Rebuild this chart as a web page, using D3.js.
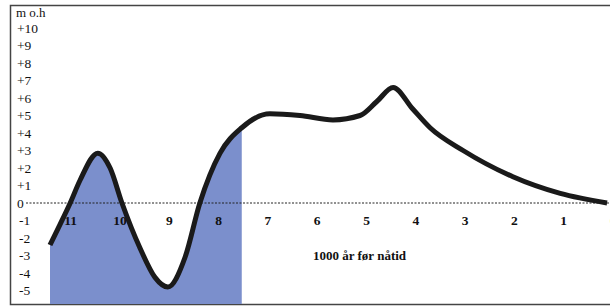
<!DOCTYPE html>
<html>
<head>
<meta charset="utf-8">
<script src="https://cdn.jsdelivr.net/npm/d3@7"></script>
<style>
  body { margin: 0; background: #fff; }
  svg { display: block; }
  text { font-family: "Liberation Serif", "Times New Roman", serif; fill: #111; }
</style>
</head>
<body>
<script>
// sea level (m o.h) against thousand years before present
var years = [11.4, 11.2, 10.99, 10.79, 10.43, 10.18, 9.94, 9.57, 9.27, 9.01, 8.66, 8.36, 7.95, 7.51, 6.94, 6.33, 5.66, 5.11, 4.77, 4.44, 4.05, 3.69, 3.02, 2.01, 1.05, 0.1];
var level = [-2.4, -1.25, 0.0, 1.3, 2.85, 2.0, 0.0, -2.6, -4.25, -4.8, -3.1, 0.0, 2.85, 4.3, 5.1, 5.0, 4.75, 5.0, 5.8, 6.6, 5.4, 4.3, 3.0, 1.5, 0.55, 0.0];

// shaded span (thousand years)
var shadeFrom = 11.4, shadeTo = 7.51;

var yTicks = [10, 9, 8, 7, 6, 5, 4, 3, 2, 1, 0, -1, -2, -3, -4, -5];
var yTickLabels = ["+10", "+9", "+8", "+7", "+6", "+5", "+4", "+3", "+2", "+1", "0", "-1", "-2", "-3", "-4", "-5"];
var xTicks = [11, 10, 9, 8, 7, 6, 5, 4, 3, 2, 1, 0];
var yUnit = "m o.h";
var xTitle = "1000 år før nåtid";

var svgWidth = 610;
var svgHeight = 307;

var svg = d3.select("body")
  .append("svg")
  .attr("width", svgWidth)
  .attr("height", svgHeight);

var x = d3.scaleLinear().domain([12, 0]).range([20.4, 612]);
var y = d3.scaleLinear().domain([0, 10]).range([203, 28]);

// frame
svg.append("rect")
  .attr("x", 10.5).attr("y", 5.5)
  .attr("width", 620).attr("height", 299)
  .attr("fill", "none")
  .attr("stroke", "#444")
  .attr("stroke-width", 1.5);

var pts = years.map((d, i) => ({ k: d, v: level[i] }));

// shaded area below the curve
var clip = svg.append("clipPath").attr("id", "shade");
clip.append("rect")
  .attr("x", x(shadeFrom))
  .attr("y", 0)
  .attr("width", x(shadeTo) - x(shadeFrom))
  .attr("height", svgHeight);

var area = d3.area()
  .x(d => x(d.k))
  .y0(304)
  .y1(d => y(d.v))
  .curve(d3.curveMonotoneX);

svg.append("path")
  .attr("d", area(pts))
  .attr("clip-path", "url(#shade)")
  .attr("fill", "#7b8fcc");

// zero line
svg.append("line")
  .attr("x1", 26).attr("x2", 610)
  .attr("y1", y(0)).attr("y2", y(0))
  .attr("stroke", "#222")
  .attr("stroke-width", 1)
  .attr("stroke-dasharray", "2,1.5");

// y labels
svg.append("text")
  .attr("x", 16).attr("y", 12)
  .attr("dy", "0.35em")
  .attr("font-size", 13)
  .text(yUnit);

svg.selectAll(".ylab")
  .data(yTicks)
  .enter()
  .append("text")
  .attr("class", "ylab")
  .attr("x", d => d < 0 ? 19 : 17)
  .attr("y", d => y(d))
  .attr("dy", "0.35em")
  .attr("font-size", 13.5)
  .text((d, i) => yTickLabels[i]);

// x labels (drawn under the curve)
svg.selectAll(".xlab")
  .data(xTicks)
  .enter()
  .append("text")
  .attr("class", "xlab")
  .attr("x", d => x(d) + 1)
  .attr("y", 220)
  .attr("dy", "0.35em")
  .attr("text-anchor", "middle")
  .attr("font-size", 13.5)
  .attr("font-weight", "bold")
  .text(d => d);

svg.append("text")
  .attr("x", 313).attr("y", 255)
  .attr("dy", "0.35em")
  .attr("font-size", 13)
  .attr("font-weight", "bold")
  .text(xTitle);

// curve
var line = d3.line()
  .x(d => x(d.k))
  .y(d => y(d.v))
  .curve(d3.curveMonotoneX);

svg.append("path")
  .attr("d", line(pts))
  .attr("fill", "none")
  .attr("stroke", "#1a1a1a")
  .attr("stroke-width", 5)
  .attr("stroke-linejoin", "round")
  .attr("stroke-linecap", "butt");
</script>
</body>
</html>
